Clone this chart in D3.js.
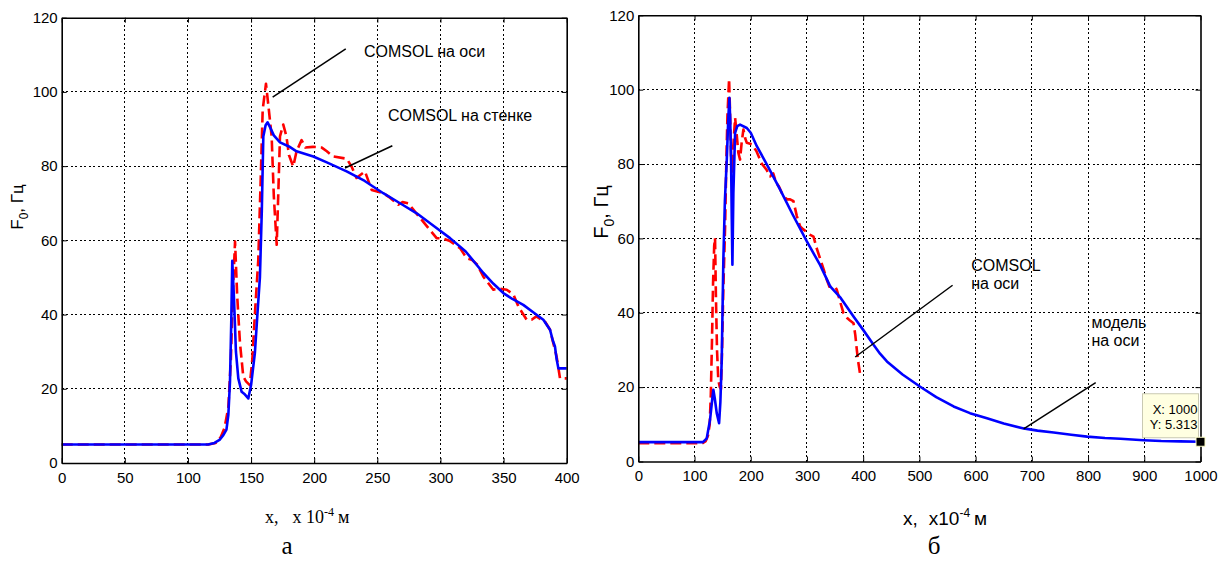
<!DOCTYPE html>
<html>
<head>
<meta charset="utf-8">
<script src="https://cdn.jsdelivr.net/npm/d3@7"></script>
<style>
  body { margin: 0; background: #fff; }
  svg { display: block; }
</style>
</head>
<body>
<svg id="fig" width="1231" height="569"></svg>
<script>
// ---------- panel (а): x from 0 to 400 (x10^-4 m) ----------
const aTicksX = [0, 50, 100, 150, 200, 250, 300, 350, 400];
const ticksY = [0, 20, 40, 60, 80, 100, 120];

// COMSOL on the axis (red dashed)
const aAxisX = [0, 50, 100, 116, 122, 126, 129, 132, 134, 135.5, 137.3, 139, 141.2, 143.8, 146, 149, 151, 153, 155.7, 157.5, 159.2, 161.8, 163.5, 166.3, 168, 170.3, 171.5, 172.9, 175.5, 178, 180, 183.4, 186, 190, 193, 199, 206, 210, 215, 225.7, 229.6, 233.5, 236, 240.2, 245.5, 254.7, 260, 266.6, 270, 274.5, 283, 290, 297, 302, 307.6, 315.5, 320.8, 324.7, 329, 334, 341.9, 347, 352.5, 357.8, 362, 368.3, 372.2, 376, 380, 383, 386.8, 392, 394.7, 400];
const aAxisY = [5, 5, 5, 5, 5.4, 7, 9.5, 15, 28, 45, 59.7, 45, 32.4, 23.3, 22, 21, 28, 40, 54.7, 75, 95.2, 102.2, 97, 88, 72, 58.8, 72, 88, 91.2, 88, 83, 79.9, 84, 87, 85, 85.2, 85, 84, 82.6, 82, 79.9, 76.8, 77.5, 78.6, 73.6, 72.7, 71.5, 69.6, 70.3, 70, 66.4, 63.5, 60.6, 60.5, 59.8, 57.9, 55.2, 54.8, 53.5, 50.2, 46.7, 47, 46.7, 45.4, 42, 38.6, 38.6, 39.5, 38.6, 38, 35.9, 28.7, 22.8, 22.8];

// COMSOL on the wall (blue solid)
const aWallX = [0, 50, 100, 116, 121, 125, 128, 130.5, 132, 133.3, 134.3, 135.1, 136.5, 138, 139.9, 142.5, 145, 147.8, 150, 153, 155, 157, 158.5, 159.7, 161.5, 163.1, 165, 168, 172.9, 180, 186, 199.3, 210, 225.7, 240, 254.7, 268, 281.2, 295, 307.6, 320, 334, 342, 349.8, 357, 365.6, 374, 381.5, 386.8, 389, 390.7, 392, 393.4, 400];
const aWallY = [5, 5, 5, 5, 5.4, 6.2, 7.5, 9, 13, 22, 38, 54.5, 44, 30, 22.8, 19.2, 18.5, 17.4, 21, 29.6, 40, 50, 68, 88, 91, 91.8, 90.5, 88.3, 86.4, 85.3, 84, 82.6, 81, 78.6, 76, 72.7, 70, 67.3, 63.8, 60.6, 57, 51.2, 48.3, 45.8, 44.2, 42.6, 40.5, 38.6, 35.9, 33, 31.4, 28, 25.5, 25.5];

// ---------- panel (б): x from 0 to 1000 (x10^-4 m) ----------
const bTicksX = [0, 100, 200, 300, 400, 500, 600, 700, 800, 900, 1000];

// COMSOL on the axis (red dashed)
const bComsolX = [0, 100, 115, 120, 124, 127, 129, 131, 133, 135, 136.5, 138, 140, 142.3, 145, 147, 149, 151, 154.4, 156.5, 158.5, 161.5, 163, 165, 167, 169, 172.2, 175, 178, 181, 184, 187, 190, 193, 202, 210, 220, 228, 234.5, 240, 245, 250, 258, 265, 270, 276, 282, 287.9, 293, 299.8, 305, 311.6, 317, 323.5, 330, 335.3, 340, 345, 350.2, 353, 358, 365, 372, 376, 382.8, 386, 388.7, 391, 394.7];
const bComsolY = [4.9, 4.9, 5, 5.5, 7, 10, 18, 32, 48, 58, 60.1, 45, 30, 21.9, 20, 19.5, 30, 45, 63.2, 80, 92.8, 102.9, 95, 82, 78, 85, 92.4, 88, 83, 81.2, 86, 89.3, 87, 85.7, 85.3, 83.5, 80, 78.5, 76.7, 77.5, 75, 74, 71.3, 70.5, 70.5, 70, 66, 63.2, 62.5, 61.7, 61, 60.5, 57.5, 54.5, 51.5, 48.9, 47, 47, 47, 46.2, 43.5, 39.9, 38.5, 38, 37.2, 34, 30, 27, 23.3];

// model on the axis (blue solid)
const bModelX = [0, 100, 115, 121.7, 127.6, 131, 133.5, 136, 139.5, 143.7, 146, 148.4, 151.3, 154, 157.4, 160, 162, 163.5, 165, 166.3, 167.4, 168.2, 169.1, 172.2, 176, 181, 193, 200, 210.8, 230, 252.3, 275, 299.8, 323.5, 341.3, 360, 382.8, 400, 418.4, 430, 442.2, 470, 501.5, 530, 560.8, 590, 620.2, 650, 685.4, 710, 738.8, 770, 798.3, 830, 857.6, 899, 930, 964, 1000];
const bModelY = [5.2, 5.2, 5.2, 6.2, 11.2, 16, 19.3, 17, 13, 10.3, 16, 27.3, 54.3, 70, 81.2, 92, 97.8, 92, 81, 65, 52.9, 62, 72.2, 88.4, 90.2, 90.6, 89.7, 88.4, 84.8, 79.5, 73.1, 66.3, 59.2, 52.8, 47.1, 44, 39, 35.4, 31.4, 29, 26.9, 23.4, 20.1, 17.3, 14.8, 13, 11.6, 10.2, 8.9, 8.3, 7.8, 7.2, 6.7, 6.3, 6.1, 5.7, 5.5, 5.4, 5.313];

// data cursor on the model curve
const tipX = [1000];
const tipY = [5.313];

const svg = d3.select("#fig");
svg.append("rect").attr("width", 1231).attr("height", 569).attr("fill", "#fff");

const SANS = "'Liberation Sans', Arial, Helvetica, sans-serif";
const SERIF = "'Liberation Serif', 'Times New Roman', serif";

function drawPanel(cfg) {
  const x = d3.scaleLinear().domain(cfg.xDomain).range(cfg.xRange);
  const y = d3.scaleLinear().domain([0, 120]).range(cfg.yRange);
  const g = svg.append("g");

  // dotted grid
  const grid = g.append("g").attr("stroke", "#000").attr("stroke-width", 1)
    .attr("stroke-dasharray", "2,2.5").attr("shape-rendering", "crispEdges");
  cfg.ticksX.slice(1, -1).forEach(v => {
    grid.append("line").attr("x1", x(v)).attr("x2", x(v))
      .attr("y1", cfg.yRange[0]).attr("y2", cfg.yRange[1]);
  });
  ticksY.slice(1, -1).forEach(v => {
    grid.append("line").attr("y1", y(v)).attr("y2", y(v))
      .attr("x1", cfg.xRange[0]).attr("x2", cfg.xRange[1]);
  });

  // curves
  const line = d3.line().x(d => x(d[0])).y(d => y(d[1]));
  cfg.series.forEach(s => {
    g.append("path")
      .datum(d3.zip(s.x, s.y))
      .attr("d", line)
      .attr("fill", "none")
      .attr("stroke", s.color)
      .attr("stroke-width", 2.6)
      .attr("stroke-linejoin", "round")
      .attr("stroke-dasharray", s.dash || null);
  });

  // axes with inward ticks (box on)
  const fmt = d3.format("d");
  const styleAxis = sel => {
    sel.selectAll(".domain").attr("stroke", "#000").attr("stroke-width", 1.6);
    sel.selectAll(".tick line").attr("stroke", "#000").attr("stroke-width", 1);
    sel.selectAll("text").attr("font-family", SANS).attr("font-size", 15).attr("fill", "#000");
  };
  g.append("g").attr("transform", `translate(0,${cfg.yRange[0]})`)
    .call(d3.axisBottom(x).tickValues(cfg.ticksX).tickFormat(fmt).tickSize(-5).tickSizeOuter(0).tickPadding(9))
    .call(styleAxis);
  g.append("g").attr("transform", `translate(0,${cfg.yRange[1]})`)
    .call(d3.axisTop(x).tickValues(cfg.ticksX).tickSize(-5).tickSizeOuter(0).tickFormat(""))
    .call(styleAxis);
  g.append("g").attr("transform", `translate(${cfg.xRange[0]},0)`)
    .call(d3.axisLeft(y).tickValues(ticksY).tickFormat(fmt).tickSize(-5).tickSizeOuter(0).tickPadding(4))
    .call(styleAxis);
  g.append("g").attr("transform", `translate(${cfg.xRange[1]},0)`)
    .call(d3.axisRight(y).tickValues(ticksY).tickSize(-5).tickSizeOuter(0).tickFormat(""))
    .call(styleAxis);

  // y label: F0, Гц
  const yl = g.append("text")
    .attr("transform", `translate(${cfg.yLabel[0]},${cfg.yLabel[1]}) rotate(-90)`)
    .attr("text-anchor", "middle")
    .attr("font-family", SANS).attr("font-size", cfg.yLabelSize).attr("fill", "#000");
  yl.append("tspan").text("F");
  yl.append("tspan").attr("font-size", cfg.yLabelSize * 0.7).attr("dy", cfg.yLabelSize * 0.3).text("0");
  yl.append("tspan").attr("dy", -cfg.yLabelSize * 0.3).text(", Гц");

  // annotations with leader lines
  cfg.notes.forEach(n => {
    g.append("line")
      .attr("x1", x(n.from[0])).attr("y1", y(n.from[1]))
      .attr("x2", x(n.to[0])).attr("y2", y(n.to[1]))
      .attr("stroke", "#000").attr("stroke-width", 1.5);
    n.lines.forEach((t, i) => {
      g.append("text")
        .attr("x", x(n.at[0])).attr("y", y(n.at[1]) + i * 18)
        .attr("font-family", SANS).attr("font-size", 16).attr("fill", "#000")
        .text(t);
    });
  });
  return { x, y, g };
}

// ---------- panel (а) ----------
drawPanel({
  xDomain: [0, 400], xRange: [61.7, 566.7], yRange: [463, 17.7],
  ticksX: aTicksX,
  series: [
    { x: aAxisX, y: aAxisY, color: "#ff0000", dash: "11,5" },
    { x: aWallX, y: aWallY, color: "#0000ff" }
  ],
  yLabel: [23, 207], yLabelSize: 17,
  notes: [
    { from: [167.1, 98.6], to: [225, 111.6], at: [239.4, 109.5], lines: ["COMSOL на оси"] },
    { from: [224.4, 79.5], to: [261.9, 85.5], at: [258.4, 92.2], lines: ["COMSOL на стенке"] }
  ]
});

// x label of panel (а), serif
const axl = svg.append("text").attr("x", 265).attr("y", 523)
  .attr("font-family", SERIF).attr("font-size", 18).attr("fill", "#000");
axl.append("tspan").text("x,");
axl.append("tspan").attr("dx", 14).text("x 10");
axl.append("tspan").attr("font-size", 12).attr("dy", -7).text("-4");
axl.append("tspan").attr("dy", 7).attr("dx", 4).text("м");

svg.append("text").attr("x", 287).attr("y", 554).attr("text-anchor", "middle")
  .attr("font-family", SERIF).attr("font-size", 25).attr("fill", "#000").text("а");

// ---------- panel (б) ----------
const pb = drawPanel({
  xDomain: [0, 1000], xRange: [638.3, 1200.5], yRange: [461.5, 15.3],
  ticksX: bTicksX,
  series: [
    { x: bComsolX, y: bComsolY, color: "#ff0000", dash: "11,5" },
    { x: bModelX, y: bModelY, color: "#0000ff" }
  ],
  yLabel: [608, 212], yLabelSize: 20,
  notes: [
    { from: [385.8, 28.1], to: [559, 47.4], at: [592.3, 51.3], lines: ["COMSOL", "на оси"] },
    { from: [685.4, 8.8], to: [813.6, 21.2], at: [805.9, 35.8], lines: ["модель", "на оси"] }
  ]
});

// x label of panel (б), sans
const bxl = pb.g.append("text").attr("x", 903).attr("y", 525)
  .attr("font-family", SANS).attr("font-size", 19).attr("fill", "#000");
bxl.append("tspan").text("x,");
bxl.append("tspan").attr("dx", 11).text("x10");
bxl.append("tspan").attr("font-size", 12).attr("dy", -8).text("-4");
bxl.append("tspan").attr("dy", 8).attr("dx", 4).text("м");

svg.append("text").attr("x", 934).attr("y", 554).attr("text-anchor", "middle")
  .attr("font-family", SERIF).attr("font-size", 25).attr("fill", "#000").text("б");

// data cursor: marker and tip box
const tip = pb.g.append("g");
tipX.forEach((tx, i) => {
  const px = pb.x(tx), py = pb.y(tipY[i]);
  tip.append("rect").attr("x", px - 58).attr("y", py - 48).attr("width", 56).attr("height", 44)
    .attr("fill", "#ffffe1").attr("stroke", "#c9c9b2").attr("stroke-width", 1);
  tip.append("text").attr("x", px - 3).attr("y", py - 28).attr("text-anchor", "end")
    .attr("font-family", SANS).attr("font-size", 13).attr("fill", "#000").text("X: " + tx);
  tip.append("text").attr("x", px - 3).attr("y", py - 13).attr("text-anchor", "end")
    .attr("font-family", SANS).attr("font-size", 13).attr("fill", "#000").text("Y: " + tipY[i]);
  tip.append("rect").attr("x", px - 4.5).attr("y", py - 4.5).attr("width", 9).attr("height", 9)
    .attr("fill", "#000").attr("stroke", "#ffffc8").attr("stroke-width", 1);
});
</script>
</body>
</html>
